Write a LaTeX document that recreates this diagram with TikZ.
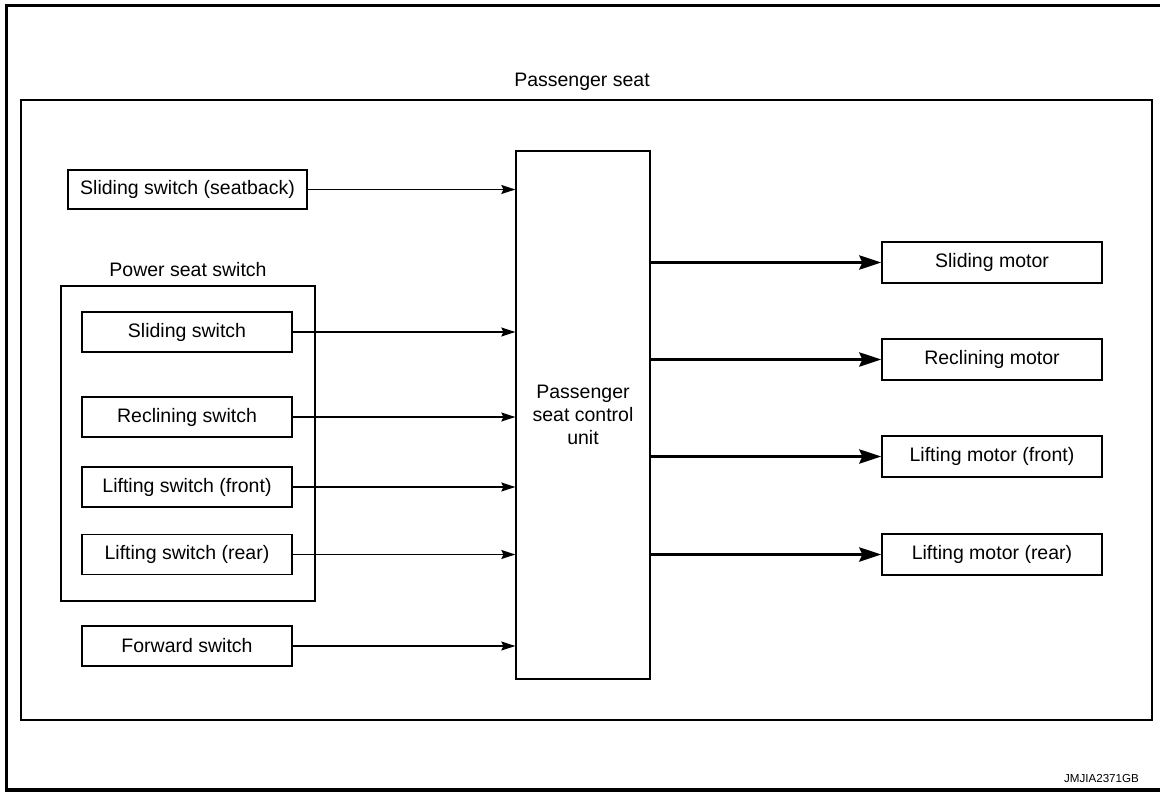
\documentclass[tikz,border=0pt]{standalone}
\usepackage{fontspec}
\setmainfont{Liberation Sans}
\usetikzlibrary{arrows.meta}

\begin{document}
\begin{tikzpicture}[x=1pt,y=-1pt,>={Stealth[length=14pt,width=9pt,inset=2pt]},
        txt/.style={inner sep=0pt,font=\fontsize{19.5}{23}\selectfont},
        box/.style={txt,draw,line width=1.3pt},
        swbox/.style={box,minimum width=210pt,minimum height=40pt},
        motorbox/.style={box,minimum width=220pt,minimum height=41pt},
        sig/.style={->,line width=1.4pt},
        drive/.style={-{Stealth[length=22pt,width=14pt,inset=3pt]},line width=3.5pt}]
        \useasboundingbox(0,0)rectangle(1160,792);
        % outer frame, open on the right
        \draw[line width=3.5pt](1160,5.5)--(6.5,5.5)--(6.5,790)--(1160,790);
        \node[draw,line width=1.5pt,minimum width=1131pt,minimum height=620pt] (seat) at(586.5,410) {};
        \node[txt] (seatlabel) at(582,82) {Passenger seat};
        % switches
        \node[box,minimum width=239pt,minimum height=39pt] (seatback) at(187.5,189.5) {Sliding switch (seatback)};
        \node[draw,line width=1.3pt,minimum width=254pt,minimum height=315pt] (pss) at(188,443.5) {};
        \node[txt] (psslabel) at(188,270) {Power seat switch};
        \node[swbox] (slide) at(187,332) {Sliding switch};
        \node[swbox] (recline) at(187,417) {Reclining switch};
        \node[swbox] (liftf) at(187,487) {Lifting switch (front)};
        \node[swbox] (liftr) at(187,554.5) {Lifting switch (rear)};
        \node[swbox] (fwd) at(187,646) {Forward switch};
        % control unit
        \node[box,minimum width=134pt,minimum height=528pt,align=center] (ecu) at(583,415) {Passenger\\seat control\\unit};
        % motors
        \node[motorbox] (smotor) at(992,262.5) {Sliding motor};
        \node[motorbox] (rmotor) at(992,359.5) {Reclining motor};
        \node[motorbox] (fmotor) at(992,456.5) {Lifting motor (front)};
        \node[motorbox] (bmotor) at(992,554.5) {Lifting motor (rear)};
        \foreach \sw in {seatback,slide,recline,liftf,liftr,fwd}
            \draw[sig](\sw.east)--(\sw.east-|ecu.west);
        \foreach \mo in {smotor,rmotor,fmotor,bmotor}
            \draw[drive](ecu.east|-\mo)--(\mo.west);
        \node[inner sep=0pt,font=\fontsize{11.6}{14}\selectfont] (code) at(1101.5,779) {JMJIA2371GB};
    \end{tikzpicture}
\end{document}
